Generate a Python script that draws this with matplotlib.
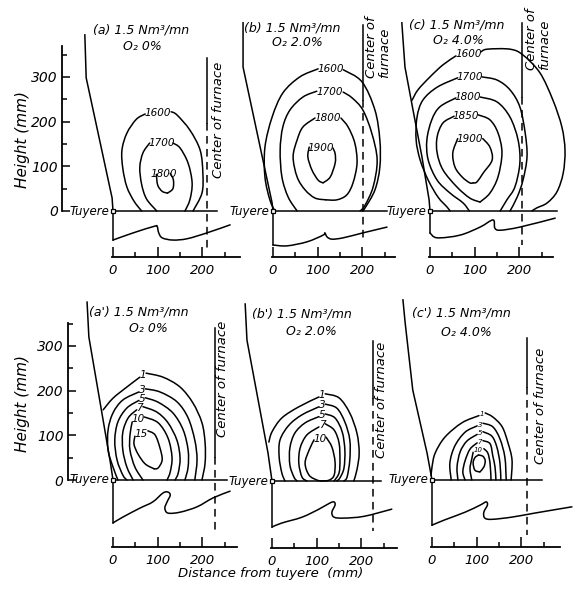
import numpy as np
import matplotlib.pyplot as plt
from matplotlib.path import Path
from matplotlib.patches import PathPatch

plt.rcParams['font.family'] = ['DejaVu Sans']
plt.rcParams['font.style'] = 'italic'

# panel captions
panel_tags = ["(a)", "(b)", "(c)", "(a')", "(b')", "(c')"]
blast_rate = "1.5 Nm³/mn"
o2_enrich = ["0%", "2.0%", "4.0%", "0%", "2.0%", "4.0%"]

# furnace wall above the tuyere (mm, origin at the tuyere nose)
wall_a = [(-63, 394), (-60, 298), (-2, 29), (0, 0), (0, -65)]
wall_b = [(-67, 421), (-67, 322), (-2, 18), (0, 0), (0, -76)]
wall_c = [(-63, 421), (-56, 322), (-38, 226), (-18, 121), (-2, 25), (0, 0), (0, -49)]
wall_a2 = [(-58, 398), (-54, 320), (-6, 40), (0, 0), (0, -96)]
wall_b2 = [(-60, 396), (-56, 315), (-9, 63), (0, 0), (0, -103)]
wall_c2 = [(-65, 403), (-60, 351), (-43, 201), (-11, 60), (0, 0), (0, -101)]

# raceway / hearth profile below the tuyere level
hearth_a = [(0, -65), (45, -49), (93, -34), (99, -35), (102, -48), (110, -60),
            (134, -65), (166, -62), (210, -49), (262, -31)]
hearth_b = [(0, -76), (31, -78), (76, -69), (112, -54), (116, -49), (121, -58),
            (132, -63), (157, -60), (201, -49), (255, -36)]
hearth_c = [(0, -49), (16, -60), (67, -54), (112, -36), (141, -20), (145, -38),
            (157, -43), (201, -36), (280, -16)]
hearth_a2 = [(0, -96), (22, -83), (60, -63), (89, -49), (112, -29), (123, -27),
             (128, -34), (121, -49), (116, -63), (123, -74), (150, -72),
             (188, -60), (224, -40), (262, -25)]
hearth_b2 = [(0, -103), (22, -94), (67, -81), (105, -63), (130, -49), (139, -47),
             (141, -54), (134, -70), (139, -81), (161, -83), (206, -79), (268, -63)]
hearth_c2 = [(0, -101), (29, -89), (74, -72), (108, -56), (121, -49), (124, -56),
             (116, -72), (118, -85), (134, -88), (179, -83), (230, -74), (313, -60)]

# isotherms (deg C), each as left and right branch starting at the label gap
iso_a = {
    "1600": ([(72, 217), (52, 205), (31, 174), (20, 136), (22, 95), (31, 54), (47, 22), (64, 0)],
             [(130, 222), (143, 215), (172, 181), (195, 136), (201, 85), (199, 40), (179, 0)]),
    "1700": ([(82, 152), (67, 130), (60, 98), (64, 60), (75, 27), (98, 0)],
             [(134, 152), (150, 141), (168, 107), (177, 63), (172, 25), (161, 0)]),
    "1800": ([(97, 82), (100, 58), (110, 44), (122, 40)],
             [(128, 84), (135, 70), (134, 50), (122, 40)]),
}
iso_b = {
    "1600": ([(101, 318), (60, 300), (22, 264), (-2, 210), (-18, 143), (-18, 76), (-7, 25), (4, 0)],
             [(157, 316), (199, 289), (228, 226), (239, 159), (239, 98), (228, 47), (206, 7), (200, 0)]),
    "1700": ([(98, 268), (67, 255), (38, 226), (22, 188), (16, 136), (20, 76), (34, 31), (54, 0)],
             [(157, 266), (177, 253), (201, 226), (221, 174), (233, 114), (224, 54), (206, 13), (195, 0)]),
    "1800": ([(94, 208), (67, 188), (54, 159), (45, 121), (54, 76), (72, 47), (94, 29), (118, 25)],
             [(152, 208), (168, 188), (183, 152), (188, 107), (179, 63), (165, 36), (143, 25), (118, 25)]),
    "1900": ([(81, 143), (78, 121), (87, 92), (101, 69), (112, 63)],
             [(134, 141), (139, 128), (139, 107), (128, 76), (112, 63)]),
}
iso_c = {
    "1600": ([(58, 347), (29, 327), (0, 300), (-27, 271), (-40, 248)],
             [(114, 356), (128, 362), (179, 362), (208, 349), (246, 309), (275, 248),
              (295, 188), (302, 136), (298, 85), (284, 43), (262, 18), (239, 7), (228, 0)]),
    "1700": ([(62, 298), (16, 277), (-16, 248), (-29, 210), (-31, 159), (-22, 114), (-4, 69),
              (18, 31), (38, 9), (45, 0)],
             [(116, 300), (150, 293), (179, 271), (201, 233), (213, 174), (217, 121), (208, 69),
              (195, 31), (179, 0)]),
    "1800": ([(58, 253), (22, 233), (4, 204), (-7, 159), (-4, 114), (16, 69), (45, 40), (74, 18), (88, 0)],
             [(112, 255), (150, 244), (179, 210), (197, 159), (201, 107), (190, 54), (172, 25), (157, 0)]),
    "1850": ([(54, 212), (29, 197), (16, 166), (16, 130), (29, 92), (60, 54), (89, 29), (112, 20)],
             [(108, 215), (134, 204), (152, 175), (161, 130), (152, 76), (134, 40), (112, 20)]),
    "1900": ([(62, 162), (51, 130), (56, 98), (72, 76), (89, 63), (97, 63)],
             [(118, 162), (134, 143), (139, 114), (119, 85), (105, 65), (97, 63)]),
}
# CO2 concentration (%)
iso_a2 = {
    "1": ([(60, 230), (31, 208), (0, 183), (-22, 157)],
          [(74, 239), (112, 230), (150, 208), (179, 172), (199, 128), (206, 83), (206, 38), (199, 0)]),
    "3": ([(58, 197), (22, 179), (0, 150), (-11, 112), (-11, 67), (0, 29), (11, 0)],
          [(72, 204), (105, 197), (143, 175), (168, 139), (183, 89), (188, 45), (183, 0)]),
    "5": ([(58, 178), (31, 161), (11, 130), (4, 89), (9, 45), (22, 11), (31, 0)],
          [(72, 184), (101, 174), (134, 150), (157, 112), (168, 67), (168, 29), (161, 0)]),
    "7": ([(53, 157), (34, 139), (22, 107), (22, 67), (31, 29), (45, 0)],
          [(67, 164), (98, 152), (123, 128), (143, 89), (150, 49), (146, 16), (139, 0)]),
    "10": ([(43, 130), (38, 101), (38, 67), (49, 29), (67, 0)],
           [(70, 141), (101, 128), (123, 94), (132, 51), (128, 18), (121, 0)]),
    "15": ([(49, 98), (47, 80), (56, 58), (72, 36), (92, 25)],
           [(78, 110), (94, 101), (105, 72), (110, 45), (101, 27), (92, 25)]),
}
iso_b2 = {
    "1": ([(105, 188), (60, 166), (22, 141), (0, 110), (-7, 87)],
          [(119, 195), (150, 186), (174, 152), (190, 107), (195, 63), (190, 25), (183, 0)]),
    "3": ([(105, 166), (67, 148), (38, 125), (18, 92), (16, 54), (22, 18), (29, 0)],
          [(119, 172), (145, 163), (163, 132), (174, 92), (174, 47), (168, 9), (161, 0)]),
    "5": ([(105, 144), (74, 130), (51, 107), (40, 74), (40, 36), (49, 9), (56, 0)],
          [(119, 150), (141, 141), (157, 110), (163, 69), (161, 29), (152, 7), (145, 0)]),
    "7": ([(105, 121), (78, 103), (63, 74), (60, 40), (67, 9), (78, 0)],
          [(119, 128), (139, 114), (150, 85), (152, 47), (150, 18), (139, 0)]),
    "10": ([(94, 92), (83, 69), (74, 40), (83, 13), (101, 2), (112, 0)],
           [(121, 98), (134, 76), (141, 43), (139, 13), (128, 2), (112, 0)]),
}
iso_c2 = {
    "1": ([(105, 144), (67, 128), (29, 96), (7, 60), (0, 29), (-2, 10)],
          [(119, 150), (136, 141), (157, 119), (170, 83), (179, 45), (177, 0)]),
    "3": ([(101, 121), (74, 107), (51, 76), (40, 38), (43, 0)],
          [(114, 127), (136, 119), (152, 92), (163, 51), (166, 0)]),
    "5": ([(101, 102), (78, 87), (63, 63), (56, 29), (58, 0)],
          [(114, 108), (134, 98), (145, 74), (152, 38), (154, 0)]),
    "7": ([(101, 83), (85, 69), (74, 43), (69, 18), (74, 0)],
          [(114, 88), (130, 81), (136, 54), (141, 29), (143, 0)]),
    "10": ([(92, 62), (89, 47), (85, 25), (89, 0)],
           [(116, 70), (125, 60), (130, 36), (132, 0)]),
    "": ([(104, 56), (96, 50), (92, 38), (96, 22), (107, 18)],
         [(104, 56), (114, 53), (119, 43), (116, 29), (107, 18)]),
}

walls = [wall_a, wall_b, wall_c, wall_a2, wall_b2, wall_c2]
hearths = [hearth_a, hearth_b, hearth_c, hearth_a2, hearth_b2, hearth_c2]
isolines = [iso_a, iso_b, iso_c, iso_a2, iso_b2, iso_c2]

# furnace centre (mm from tuyere) and how far the tuyere level line runs
center_x = [210, 201, 206, 228, 226, 213]
tuyere_len = [233, 255, 284, 255, 244, 246]

x_ticks = [0, 100, 200]
x_minor = [50, 150, 250]
y_ticks = [0, 100, 200, 300]
y_minor = [50, 150, 250, 350]

# ---- layout (pixels on the page, mm inside each panel) ----
W, H = 575, 596
S = 0.447                       # px per mm
origin_px = [(113, 211), (273, 211), (430, 211), (113, 480), (272, 481), (432, 480)]
XL, YL = (-150, 330), (-200, 440)
center_solid = [(343, 197), (416, 248), (420, 255), (340, 51), (313, 186), (318, 208)]
center_dash_end = [-83, -69, -76, -112, -112, -123]
center_text = [(235, 204, False), (235, 298, True), (242, 315, True),
               (246, 226, False), (246, 181, False), (242, 166, False)]
title_pos = [((63, 405), (65, 367)), ((42, 409), (55, 376)), ((60, 416), (63, 381)),
             ((58, 376), (80, 340)), ((67, 373), (89, 335)), ((65, 373), (76, 331))]
yaxis_x = [-114, -101]
yaxis_top = [369, 351]
xaxis_y = [-103, -103, -103, -150, -150, -150]
xaxis_end = [284, 273, 275, 277, 280, 286]
label_size = [7.5, 7.5, 7.5, 7.5, 7.5, 5]
LW = 1.1


def smooth_line(ax, pts, lw=LW):
    """Draw a Catmull-Rom curve through pts as cubic Bezier segments."""
    p = np.asarray(pts, float)
    ext = np.vstack([p[0], p, p[-1]])
    verts, codes = [p[0]], [Path.MOVETO]
    for i in range(len(p) - 1):
        p0, p1, p2, p3 = ext[i], ext[i + 1], ext[i + 2], ext[i + 3]
        verts += [p1 + (p2 - p0) / 6, p2 - (p3 - p1) / 6, p2]
        codes += [Path.CURVE4] * 3
    ax.add_patch(PathPatch(Path(verts, codes), fill=False, lw=lw, ec='black',
                           capstyle='round', joinstyle='round'))


fig = plt.figure(figsize=(W / 100, H / 100), dpi=100)

for k in range(6):
    px0, py0 = origin_px[k]
    left = px0 + XL[0] * S
    top = py0 - YL[1] * S
    w = (XL[1] - XL[0]) * S
    h = (YL[1] - YL[0]) * S
    ax = fig.add_axes([left / W, 1 - (top + h) / H, w / W, h / H])
    ax.set_xlim(*XL)
    ax.set_ylim(*YL)
    ax.patch.set_visible(False)
    for sp in ['top', 'right']:
        ax.spines[sp].set_visible(False)

    # distance axis
    ax.spines['bottom'].set_position(('data', xaxis_y[k]))
    ax.spines['bottom'].set_bounds(-2, xaxis_end[k])
    ax.spines['bottom'].set_linewidth(1.3)
    ax.set_xticks(x_ticks)
    ax.set_xticks(x_minor, minor=True)
    ax.tick_params(axis='x', which='both', direction='in', width=1.1, labelsize=9.5, pad=5)
    ax.tick_params(axis='x', which='major', length=7)
    ax.tick_params(axis='x', which='minor', length=3.5)

    # height axis only on the first panel of each row
    if k % 3 == 0:
        r = k // 3
        ax.spines['left'].set_position(('data', yaxis_x[r]))
        ax.spines['left'].set_bounds(0, yaxis_top[r])
        ax.spines['left'].set_linewidth(1.3)
        ax.set_yticks(y_ticks)
        ax.set_yticks(y_minor, minor=True)
        ax.tick_params(axis='y', which='both', direction='in', width=1.1, labelsize=10, pad=3)
        ax.tick_params(axis='y', which='major', length=5.5)
        ax.tick_params(axis='y', which='minor', length=3.5)
    else:
        ax.spines['left'].set_visible(False)
        ax.set_yticks([])

    # furnace wall and hearth profile
    wx, wy = zip(*walls[k])
    ax.plot(wx, wy, color='black', lw=LW, solid_joinstyle='round')
    smooth_line(ax, hearths[k])

    # tuyere level
    ax.plot([0, tuyere_len[k]], [0, 0], color='black', lw=LW)
    ax.plot([0], [0], marker='s', ms=3.5, mfc='white', mec='black', mew=0.9)
    ax.text(-7, 0, "Tuyere", ha='right', va='center', fontsize=8.5)

    # furnace centre line
    cx = center_x[k]
    st, sb = center_solid[k]
    ax.plot([cx, cx], [st, sb], color='black', lw=LW)
    ax.plot([cx, cx], [sb, center_dash_end[k]], color='black', lw=LW, dashes=(5, 3.5))
    tx, ty, two_lines = center_text[k]
    if two_lines:
        ax.text(tx, ty, "Center of\nfurnace", rotation=90, ha='center', va='bottom',
                multialignment='left', fontsize=9.5, linespacing=0.95)
    else:
        ax.text(tx, ty, "Center of furnace", rotation=90, ha='center', va='center',
                fontsize=9.5)

    # isolines with their labels in the gap
    for lab, (lb, rb) in isolines[k].items():
        smooth_line(ax, lb)
        smooth_line(ax, rb)
        if lab:
            mx = (lb[0][0] + rb[0][0]) / 2
            my = (lb[0][1] + rb[0][1]) / 2
            ax.text(mx, my, lab, ha='center', va='center', fontsize=label_size[k])

    # caption
    (t1x, t1y), (t2x, t2y) = title_pos[k]
    ax.text(t1x, t1y, f"{panel_tags[k]} {blast_rate}", ha='center', va='center', fontsize=9)
    ax.text(t2x, t2y, f"O₂ {o2_enrich[k]}", ha='center', va='center', fontsize=9)

fig.text(23 / W, 1 - 140 / H, "Height (mm)", rotation=90, ha='center', va='center', fontsize=11)
fig.text(23 / W, 1 - 404 / H, "Height (mm)", rotation=90, ha='center', va='center', fontsize=11)
fig.text(271 / W, 1 - 574 / H, "Distance from tuyere  (mm)", ha='center', va='center', fontsize=9.5)

fig.savefig("out.png", dpi=100)
